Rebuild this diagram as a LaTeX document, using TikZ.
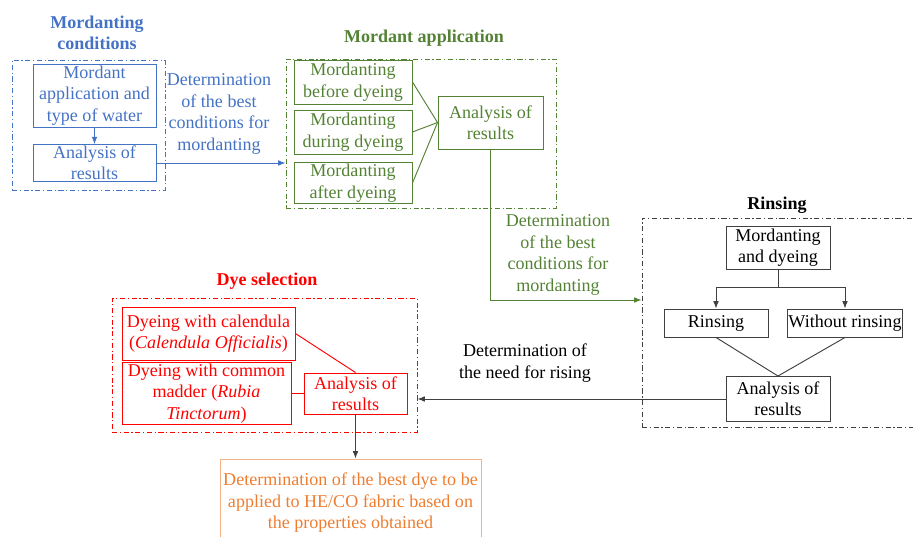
\documentclass[tikz,border=0pt]{standalone}
\usepackage{fontspec}
\setmainfont{Liberation Serif}
\usepackage{tikz}
\usetikzlibrary{arrows.meta, positioning, calc}

\definecolor{cblue}{RGB}{68,114,196}
\definecolor{cgreen}{RGB}{84,130,53}
\definecolor{cred}{RGB}{255,0,0}
\definecolor{corange}{RGB}{237,125,49}
\definecolor{corangeb}{RGB}{244,177,131}
\definecolor{cgrey}{RGB}{64,64,64}
\newcommand{\pu}{0.03cm}

\begin{document}
\begin{tikzpicture}[
  x=0.03cm, y=-0.03cm,
  font=\fontsize{15.4}{18.3}\selectfont,
  boite/.style={draw, line width=0.8pt, align=center, inner sep=1pt},
  cadre/.style={draw, line width=0.8pt, dash pattern=on 4.5pt off 2.2pt on 1pt off 2.2pt},
  titre/.style={font=\fontsize{15.4}{18.3}\selectfont\bfseries, align=center},
  fleche/.style={line width=0.8pt, -{Latex[length=2.2mm, width=1.7mm]}},
  lien/.style={line width=0.8pt}
]
  \useasboundingbox (0,0) rectangle (913,537);

  % Mordanting conditions
  \node[titre, text=cblue] (tcond) at (97,33) {Mordanting\\conditions};
  \node[cadre, cblue, minimum width=153*\pu, minimum height=130*\pu] (fcond) at (88.5,125) {};
  \node[boite, cblue, minimum width=123*\pu, minimum height=63*\pu] (mat) at (94.5,95.5) {Mordant\\application and\\type of water};
  \node[boite, cblue, minimum width=123*\pu, minimum height=36*\pu] (an1) at (94.5,163) {Analysis of\\results};
  \draw[fleche, cblue] (mat.south) -- (an1.north);
  \node[text=cblue, align=center] (lcond) at (219,114) {Determination\\of the best\\conditions for\\mordanting};

  % Mordant application
  \node[titre, text=cgreen] (tappl) at (424,38) {Mordant application};
  \node[cadre, cgreen, minimum width=270*\pu, minimum height=149*\pu] (fappl) at (421,133.5) {};
  \node[boite, cgreen, minimum width=118*\pu, minimum height=44*\pu] (avant) at (353,82) {Mordanting\\before dyeing};
  \node[boite, cgreen, minimum width=118*\pu, minimum height=44*\pu] (pendant) at (353,132) {Mordanting\\during dyeing};
  \node[boite, cgreen, minimum width=118*\pu, minimum height=40*\pu] (apres) at (353,183) {Mordanting\\after dyeing};
  \node[boite, cgreen, minimum width=105*\pu, minimum height=53*\pu] (an2) at (490.5,122.5) {Analysis of\\results};
  \draw[lien, cgreen] (avant.east) -- (an2.west);
  \draw[lien, cgreen] (pendant.east) -- (an2.west);
  \draw[lien, cgreen] (apres.east) -- (an2.west);
  \draw[fleche, cblue] (an1.east) -- (an1.east -| fappl.west);
  \node[text=cgreen, align=center] (lappl) at (558,255) {Determination\\of the best\\conditions for\\mordanting};

  % Rinsing
  \node[titre] (trinc) at (777,205) {Rinsing};
  \node[cadre, cgrey, minimum width=280*\pu, minimum height=209*\pu] (frinc) at (782,322.5) {};
  \node[boite, cgrey, text=black, minimum width=104*\pu, minimum height=43*\pu] (md) at (778,247.5) {Mordanting\\and dyeing};
  \node[boite, cgrey, text=black, minimum width=104*\pu, minimum height=28*\pu] (rin) at (716,323) {Rinsing};
  \node[boite, cgrey, text=black, minimum width=114*\pu, minimum height=28*\pu] (sans) at (845,323) {Without rinsing};
  \node[boite, cgrey, text=black, minimum width=104*\pu, minimum height=45*\pu] (an3) at (778,399) {Analysis of\\results};
  \coordinate (split) at (778,287);
  \draw[lien, cgrey] (md.south) -- (split);
  \draw[fleche, cgrey] (split) -| (rin.north);
  \draw[fleche, cgrey] (split) -| (sans.north);
  \draw[lien, cgrey] (rin.south) -- (an3.north);
  \draw[lien, cgrey] (sans.south) -- (an3.north);
  \draw[fleche, cgreen] (an2.south) |- ([yshift=0.675cm]frinc.west);
  \node[align=center] (lrinc) at (525,363) {Determination of\\the need for rising};

  % Dye selection
  \node[titre, text=cred] (tdye) at (267,281) {Dye selection};
  \node[cadre, cred, minimum width=305*\pu, minimum height=134*\pu] (fdye) at (264.5,365) {};
  \node[boite, cred, minimum width=173*\pu, minimum height=53*\pu] (cal) at (208.5,333.5) {Dyeing with calendula\\(\textit{Calendula Officialis})};
  \node[boite, cred, minimum width=169*\pu, minimum height=59*\pu] (mad) at (206.5,393.5) {Dyeing with common\\madder (\textit{Rubia}\\\textit{Tinctorum})};
  \node[boite, cred, minimum width=103*\pu, minimum height=41*\pu] (an4) at (355.5,393.5) {Analysis of\\results};
  \draw[lien, cred] (cal.east) -- (an4.north);
  \draw[lien, cred] (mad.east) -- (an4.west);
  \draw[fleche, cgrey] (an3.west) -- (an3.west -| fdye.east);

  % Result
  \node[boite, draw=corangeb, text=corange, minimum width=261*\pu, minimum height=88*\pu] (res) at (350.5,503) {Determination of the best dye to be\\applied to HE/CO fabric based on\\the properties obtained};
  \draw[fleche, cgrey] (an4.south) -- (an4.south |- res.north);
\end{tikzpicture}
\end{document}
